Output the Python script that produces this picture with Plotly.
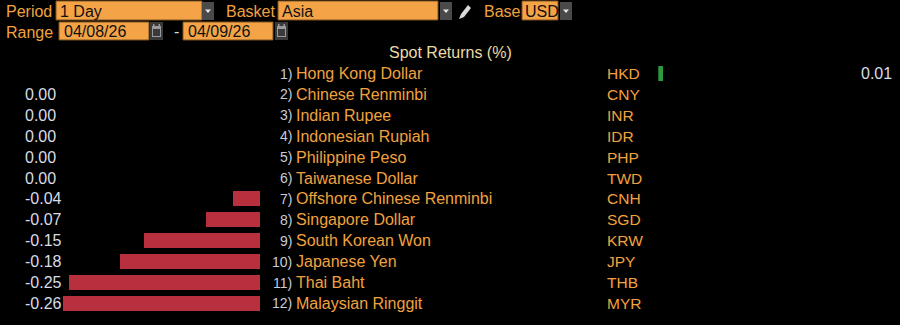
import plotly.graph_objects as go

# ---------------- data ----------------
ranks = ["1)", "2)", "3)", "4)", "5)", "6)", "7)", "8)", "9)", "10)", "11)", "12)"]
names = ["Hong Kong Dollar", "Chinese Renminbi", "Indian Rupee", "Indonesian Rupiah",
         "Philippine Peso", "Taiwanese Dollar", "Offshore Chinese Renminbi",
         "Singapore Dollar", "South Korean Won", "Japanese Yen", "Thai Baht",
         "Malaysian Ringgit"]
codes = ["HKD", "CNY", "INR", "IDR", "PHP", "TWD", "CNH", "SGD", "KRW", "JPY", "THB", "MYR"]
returns = [0.006, 0.0, 0.0, 0.0, 0.0, 0.0, -0.036, -0.070, -0.151, -0.182, -0.249, -0.256]
chart_title = "Spot Returns (%)"
period_label, period_value = "Period", "1 Day"
basket_label, basket_value = "Basket", "Asia"
base_label, base_value = "Base", "USD"
range_label, range_start, range_end = "Range", "04/08/26", "04/09/26"

# ---------------- style ----------------
W, H = 900, 325
ORANGE = "#F1A23E"
BOX = "#F4A447"
BOXLINE = "#7A5220"
GREY_BTN = "#4A4A4A"
VAL = "#D8DCE6"
RANKC = "#C5CCDA"
RED = "#B8303D"
GREEN = "#2E9A3E"
FONT = "Liberation Sans, Arial, sans-serif"
NARROW = "Liberation Sans Narrow, Liberation Sans, Arial, sans-serif"

def fx(p):
    return p / W

def fy(p):
    return 1 - p / H

rows = list(range(1, len(names) + 1))
neg = [v if v < 0 else None for v in returns]
pos = [v if v > 0 else None for v in returns]

SCALE = 769.5  # px per unit
ZERO_L = 260.3
ZERO_R = 658.3

fig = go.Figure()
fig.add_trace(go.Bar(y=rows, x=neg, orientation="h", width=0.72,
                     marker=dict(color=RED, line=dict(width=0)),
                     xaxis="x", yaxis="y", hoverinfo="skip", showlegend=False))
fig.add_trace(go.Bar(y=rows, x=pos, orientation="h", width=0.72,
                     marker=dict(color=GREEN, line=dict(width=0)),
                     xaxis="x2", yaxis="y", hoverinfo="skip", showlegend=False))

ann = []
shapes = []

def text(x, y, s, color, size=16, anchor="left", yref="paper", family=FONT):
    ann.append(dict(x=x, y=y, xref="paper", yref=yref, text=s, showarrow=False,
                    xanchor=anchor, yanchor="middle",
                    font=dict(family=family, size=size, color=color)))

for r, rk, nm, cd, v in zip(rows, ranks, names, codes, returns):
    text(fx(294), r, rk, RANKC, size=14, anchor="right", yref="y", family=NARROW)
    text(fx(294), r, nm, ORANGE, yref="y")
    text(fx(605), r, cd, ORANGE, size=15.5, yref="y")
    if v > 0:
        text(fx(894), r, f"{v:.2f}", VAL, anchor="right", yref="y")
    else:
        text(fx(23), r, f"{v:.2f}" if v < 0 else "0.00", VAL, yref="y")

text(fx(450), fy(52), chart_title, "#EADCA4", size=16, anchor="center")

def rect(x0, y0, x1, y1, fill, line=None, lw=1):
    shapes.append(dict(type="rect", xref="paper", yref="paper",
                       x0=fx(x0), x1=fx(x1), y0=fy(y1), y1=fy(y0),
                       fillcolor=fill, line=dict(color=line or fill, width=lw if line else 0),
                       layer="above"))

def dropdown(x0, x1, y0, y1):
    rect(x0, y0, x1, y1, GREY_BTN)
    cx = (x0 + x1) / 2
    cy = (y0 + y1) / 2
    path = f"M {fx(cx-3)} {fy(cy-1.5)} L {fx(cx+3)} {fy(cy-1.5)} L {fx(cx)} {fy(cy+2)} Z"
    shapes.append(dict(type="path", xref="paper", yref="paper", path=path,
                       fillcolor="#E8E8E8", line=dict(width=0), layer="above"))

def calendar(x0, x1, y0, y1):
    rect(x0, y0, x1, y1, "#3A3A3A")
    rect(x0 + 2, y0 + 4, x1 - 2, y1 - 3, "#9A9A9A")
    rect(x0 + 3, y0 + 7, x1 - 3, y1 - 4, "#3A3A3A")
    rect(x0 + 3, y0 + 2, x0 + 4.5, y0 + 5, "#9A9A9A")
    rect(x1 - 4.5, y0 + 2, x1 - 3, y0 + 5, "#9A9A9A")

# Row 1 header
text(fx(4), fy(11), period_label, ORANGE)
rect(56, 1, 202, 20, BOX, BOXLINE)
text(fx(58), fy(11), period_value, "#111111")
dropdown(202, 214, 2, 20)

text(fx(224), fy(11), basket_label, ORANGE)
rect(278, 1, 438, 20, BOX, BOXLINE)
text(fx(280), fy(11), basket_value, "#111111")
dropdown(440, 452, 2, 20)

# pencil icon
pencil = (f"M {fx(459)} {fy(19)} L {fx(461)} {fy(14)} L {fx(468)} {fy(5)} "
          f"L {fx(471)} {fy(8)} L {fx(464)} {fy(17)} Z")
shapes.append(dict(type="path", xref="paper", yref="paper", path=pencil,
                   fillcolor="#DADADA", line=dict(width=0), layer="above"))

text(fx(482), fy(11), base_label, ORANGE)
rect(522, 1, 558, 20, BOX, BOXLINE)
text(fx(523), fy(11), base_value, "#111111")
dropdown(560, 572, 2, 20)

# Row 2 header
text(fx(4), fy(32), range_label, ORANGE)
rect(59, 22, 149, 40, BOX, BOXLINE)
text(fx(62), fy(31.5), range_start, "#111111")
calendar(150, 163, 22, 40)
text(fx(172), fy(31.5), "-", VAL)
rect(183, 22, 273, 40, BOX, BOXLINE)
text(fx(186), fy(31.5), range_end, "#111111")
calendar(275, 288, 22, 40)

row_h = 20.9
row1 = 73.5
y_top = 1 - row1 / row_h
y_bot = 1 + (H - row1) / row_h

fig.update_layout(
    width=W, height=H,
    margin=dict(l=0, r=0, t=0, b=0),
    paper_bgcolor="#000000", plot_bgcolor="#000000",
    showlegend=False,
    xaxis=dict(domain=[0, fx(ZERO_L)], range=[-ZERO_L / SCALE, 0], visible=False,
               showgrid=False, zeroline=False, fixedrange=True),
    xaxis2=dict(domain=[fx(ZERO_R), 1], range=[0, (W - ZERO_R) / SCALE], visible=False,
                showgrid=False, zeroline=False, anchor="y", fixedrange=True),
    yaxis=dict(domain=[0, 1], range=[y_bot, y_top], visible=False,
               showgrid=False, zeroline=False, fixedrange=True),
    annotations=ann,
    shapes=shapes,
    bargap=0,
)

fig.write_html("out.html", config={"displayModeBar": False})
